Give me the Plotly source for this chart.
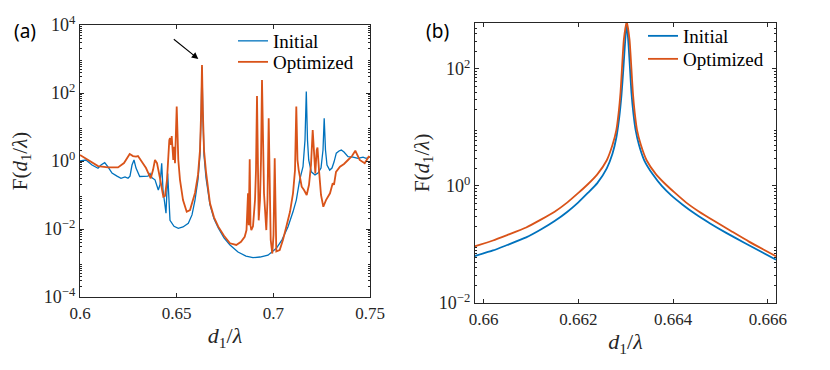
import plotly.graph_objects as go
from plotly.subplots import make_subplots

# (a) wide scan
a_x_init = [0.60000, 0.60310, 0.60621, 0.60931, 0.61086, 0.61278, 0.61448, 0.61655, 0.61914, 0.62121,
            0.62328, 0.62483, 0.62586, 0.62690, 0.62793, 0.62897, 0.63088, 0.63310, 0.63517, 0.63621,
            0.63724, 0.63879, 0.64050, 0.64138, 0.64226, 0.64293, 0.64448, 0.64536, 0.64603, 0.64655,
            0.64862, 0.65085, 0.65328, 0.65602, 0.65793, 0.65948, 0.66103, 0.66207, 0.66269, 0.66310,
            0.66352, 0.66414, 0.66517, 0.66724, 0.66931, 0.67153, 0.67448, 0.67759, 0.68172, 0.68586,
            0.68948, 0.69310, 0.69724, 0.70154, 0.70448, 0.70759, 0.71017, 0.71188, 0.71364, 0.71534,
            0.71638, 0.71705, 0.71767, 0.71829, 0.71964, 0.72155, 0.72310, 0.72466, 0.72569, 0.72631,
            0.72698, 0.72776, 0.72916, 0.73034, 0.73138, 0.73257, 0.73397, 0.73516, 0.73655, 0.73862,
            0.74121, 0.74379, 0.74638, 0.74793, 0.75000]
a_f_init = [1.0, 1.07, 0.76, 0.61, 0.76, 0.89, 0.67, 0.44, 0.36, 0.31,
            0.34, 0.31, 0.36, 0.76, 1.07, 0.62, 0.35, 0.36, 0.36, 0.43,
            0.32, 0.28, 0.14, 0.2, 0.86, 0.14, 0.029, 0.43, 0.071, 0.018,
            0.012, 0.0105, 0.0115, 0.0148, 0.026, 0.071, 0.28, 1.5, 28, 580,
            28, 1.5, 0.32, 0.051, 0.02, 0.0107, 0.0055, 0.0034, 0.0021, 0.0016,
            0.00144, 0.0015, 0.0017, 0.0027, 0.0048, 0.0117, 0.032, 0.071, 0.28, 0.68,
            4.1, 110, 4.1, 1.07, 0.48, 0.39, 0.44, 0.62, 2.1, 18,
            2.1, 0.76, 0.54, 0.62, 0.93, 1.7, 1.97, 2.1, 1.84, 1.34,
            1.3, 1.2, 1.3, 1.2, 1.3]

a_x_opt = [0.60000, 0.60414, 0.60931, 0.61448, 0.61966, 0.62276, 0.62571, 0.62741, 0.62897, 0.63000,
           0.63207, 0.63414, 0.63657, 0.63776, 0.63879, 0.63983, 0.64138, 0.64309, 0.64397, 0.64500,
           0.64619, 0.64655, 0.64707, 0.64743, 0.64826, 0.64878, 0.64914, 0.65002, 0.65085, 0.65172,
           0.65328, 0.65519, 0.65690, 0.65948, 0.66103, 0.66207, 0.66269, 0.66310, 0.66352, 0.66414,
           0.66517, 0.66724, 0.66931, 0.67153, 0.67448, 0.67759, 0.68085, 0.68328, 0.68519, 0.68612,
           0.68690, 0.68726, 0.68778, 0.68819, 0.68861, 0.68948, 0.69052, 0.69103, 0.69155, 0.69207,
           0.69243, 0.69310, 0.69362, 0.69414, 0.69466, 0.69517, 0.69636, 0.69698, 0.69760, 0.69812,
           0.69864, 0.69947, 0.70009, 0.70071, 0.70112, 0.70154, 0.70330, 0.70500, 0.70671, 0.70862,
           0.71017, 0.71121, 0.71188, 0.71250, 0.71312, 0.71467, 0.71586, 0.71726, 0.71845, 0.71948,
           0.72036, 0.72103, 0.72171, 0.72243, 0.72284, 0.72362, 0.72466, 0.72585, 0.72724, 0.72931,
           0.73071, 0.73138, 0.73242, 0.73448, 0.73655, 0.73862, 0.74069, 0.74240, 0.74467, 0.74726,
           0.74933, 0.75000]
a_f_opt = [1.5, 1.07, 0.71, 0.65, 0.65, 0.87, 1.6, 1.40, 1.34, 1.40,
           0.93, 0.62, 0.31, 0.54, 1.07, 0.87, 0.31, 0.089, 0.094, 0.28,
           4.1, 4.7, 2.96, 5.4, 1.07, 2.6, 0.86, 40, 1.07, 0.28,
           0.071, 0.032, 0.036, 0.115, 0.39, 2.1, 32, 665, 32, 2.1,
           0.48, 0.057, 0.022, 0.0117, 0.0063, 0.0038, 0.0034, 0.0042, 0.0059, 0.0093,
           0.112, 0.013, 1.12, 0.013, 0.0093, 0.012, 0.071, 0.54, 82, 0.54,
           0.018, 0.071, 1.07, 240, 2.1, 0.112, 0.0093, 0.071, 18, 0.071,
           0.0048, 0.0019, 0.0066, 1.2, 0.0066, 0.0022, 0.0024, 0.0048, 0.0117, 0.032,
           0.112, 0.54, 40, 1.07, 0.54, 0.175, 0.14, 0.1, 0.2, 0.76,
           8.1, 1.07, 0.43, 2.1, 2.5, 0.54, 0.1, 0.045, 0.071, 0.112,
           0.22, 0.2, 0.48, 0.68, 0.82, 1.07, 1.4, 2.0, 1.07, 0.86,
           1.34, 1.3]

# (b) zoom on the 0.663 resonance
b_x_init = [0.6598, 0.6602, 0.6605, 0.6609, 0.6612, 0.6615, 0.66177, 0.6620, 0.6622, 0.6624,
            0.6626, 0.66272, 0.6628, 0.66286, 0.66291, 0.66295, 0.66299, 0.66302,
            0.66306, 0.66309, 0.66312, 0.66316, 0.66321, 0.66328, 0.66339, 0.66357, 0.66376,
            0.66396, 0.6642, 0.66447, 0.66478, 0.66512, 0.6655, 0.66617]
b_f_init = [0.063, 0.079, 0.098, 0.132, 0.178, 0.251, 0.363, 0.525, 0.759, 1.12,
            2.0, 3.55, 6.6, 14.1, 35.5, 100, 316, 603,
            251, 100, 39.8, 17.8, 8.9, 5.0, 2.75, 1.58, 1.0,
            0.69, 0.479, 0.331, 0.229, 0.158, 0.107, 0.055]

b_x_opt = [0.6598, 0.6602, 0.6605, 0.6609, 0.6612, 0.6615, 0.66177, 0.6620, 0.6622, 0.6624,
           0.6626, 0.66272, 0.6628, 0.66285, 0.66289, 0.66292, 0.66296, 0.66302,
           0.66308, 0.66312, 0.66315, 0.66319, 0.66324, 0.66332, 0.66344, 0.66364, 0.66384,
           0.66404, 0.66427, 0.66455, 0.66487, 0.66522, 0.6656, 0.66617]
b_f_opt = [0.092, 0.117, 0.145, 0.195, 0.263, 0.363, 0.525, 0.76, 1.07, 1.58,
           2.75, 5.0, 8.9, 17.8, 40, 100, 316, 646,
           316, 100, 40, 17.8, 8.9, 5.0, 2.75, 1.58, 1.07,
           0.76, 0.525, 0.363, 0.251, 0.17, 0.112, 0.063]

BLUE = "#0072BD"
ORANGE = "#D95319"
AX = "#262626"
SERIF = "Liberation Serif"


def log_minor(lo, hi):
    vals = []
    for e in range(lo, hi):
        for m in range(2, 10):
            vals.append(m * 10.0 ** e)
    return vals


fig = make_subplots(rows=1, cols=2)

fig.add_trace(go.Scatter(x=a_x_init, y=a_f_init, mode="lines", name="Initial",
                         line=dict(color=BLUE, width=1.3), legend="legend"), row=1, col=1)
fig.add_trace(go.Scatter(x=a_x_opt, y=a_f_opt, mode="lines", name="Optimized",
                         line=dict(color=ORANGE, width=1.8), legend="legend2"), row=1, col=1)
fig.add_trace(go.Scatter(x=b_x_init, y=b_f_init, mode="lines", name="Initial",
                         line=dict(color=BLUE, width=1.8, shape="spline", smoothing=0.5),
                         legend="legend3"), row=1, col=2)
fig.add_trace(go.Scatter(x=b_x_opt, y=b_f_opt, mode="lines", name="Optimized",
                         line=dict(color=ORANGE, width=1.8, shape="spline", smoothing=0.5),
                         legend="legend4"), row=1, col=2)

axis_common = dict(showline=True, linecolor=AX, linewidth=1.3, mirror="ticks", ticks="inside",
                   ticklen=4, tickcolor=AX, showgrid=False, zeroline=False, automargin=False,
                   tickfont=dict(family=SERIF, size=17, color=AX))

fig.update_xaxes(axis_common)
fig.update_yaxes(axis_common)
fig.update_yaxes(tickfont=dict(family=SERIF, size=18, color=AX))

xtitle = dict(text="<i>d</i><sub>1</sub>/<i>λ</i>", font=dict(family=SERIF, size=22, color=AX), standoff=6)


def ytitle(standoff):
    return dict(text="F(<i>d</i><sub>1</sub>/<i>λ</i>)", font=dict(family=SERIF, size=21, color=AX),
                standoff=standoff)


fig.update_xaxes(row=1, col=1, domain=[80 / 830, 370 / 830], range=[0.6, 0.75],
                 tickvals=[0.6, 0.65, 0.7, 0.75], ticktext=["0.6", "0.65", "0.7", "0.75"], title=xtitle)
fig.update_yaxes(row=1, col=1, domain=[1 - 297 / 370, 1 - 25 / 370], type="log", range=[-4, 4],
                 tickvals=[1e-4, 1e-2, 1, 1e2, 1e4],
                 ticktext=["10<sup>−4</sup>", "10<sup>−2</sup>", "10<sup>0</sup>", "10<sup>2</sup>", "10<sup>4</sup>"],
                 minor=dict(ticks="inside", ticklen=2, tickcolor=AX, tickmode="array",
                            tickvals=log_minor(-4, 4), showgrid=False),
                 title=ytitle(10))
fig.update_xaxes(row=1, col=2, domain=[475 / 830, 776 / 830], range=[0.65982, 0.66617],
                 tickvals=[0.66, 0.662, 0.664, 0.666], ticktext=["0.66", "0.662", "0.664", "0.666"], title=xtitle)
fig.update_yaxes(row=1, col=2, domain=[1 - 303 / 370, 1 - 22.7 / 370], type="log", range=[-2, 2.79],
                 tickvals=[1e-2, 1, 1e2],
                 ticktext=["10<sup>−2</sup>", "10<sup>0</sup>", "10<sup>2</sup>"],
                 minor=dict(ticks="inside", ticklen=2, tickcolor=AX, tickmode="array",
                            tickvals=log_minor(-2, 3), showgrid=False),
                 title=ytitle(3))

legend_common = dict(bgcolor="rgba(255,255,255,0)", borderwidth=0, tracegroupgap=0,
                     font=dict(family=SERIF, size=19, color="#000000"), xanchor="left", yanchor="middle")
fig.update_layout(
    legend=dict(legend_common, x=233 / 830, y=1 - 41 / 370),
    legend2=dict(legend_common, x=233 / 830, y=1 - 62 / 370),
    legend3=dict(legend_common, x=643 / 830, y=1 - 36 / 370),
    legend4=dict(legend_common, x=643 / 830, y=1 - 59 / 370),
)

# arrow pointing at the main resonance
fig.add_annotation(x=0.6612, y=3.0, xref="x", yref="y", ax=-26, ay=-21,
                   showarrow=True, arrowhead=2, arrowsize=1.2, arrowwidth=1.1, arrowcolor="#000000", text="")

fig.add_annotation(x=12 / 830, y=1 - 16 / 370, xref="paper", yref="paper", text="(a)", showarrow=False,
                   xanchor="left", yanchor="top", font=dict(family="Noto Sans", size=19, color="#000000"))
fig.add_annotation(x=424 / 830, y=1 - 16 / 370, xref="paper", yref="paper", text="(b)", showarrow=False,
                   xanchor="left", yanchor="top", font=dict(family="Noto Sans", size=19, color="#000000"))

fig.update_layout(width=830, height=370, margin=dict(l=0, r=0, t=0, b=0),
                  paper_bgcolor="white", plot_bgcolor="white", showlegend=True)

fig.write_html("out.html", config={"displayModeBar": False},
               post_script="document.body.style.margin='0';")
